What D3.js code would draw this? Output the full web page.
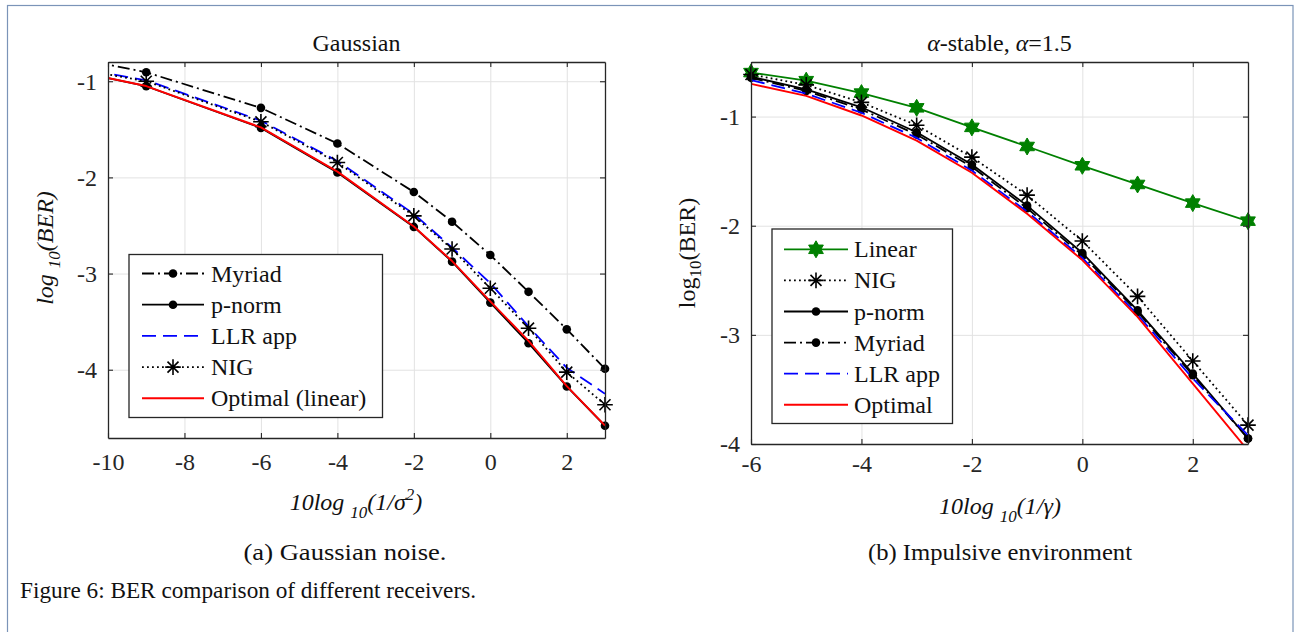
<!DOCTYPE html>
<html><head><meta charset="utf-8">
<script src="https://cdn.jsdelivr.net/npm/d3@7"></script>
<style>
html,body{margin:0;padding:0;background:#fff;}
</style></head>
<body>
<svg id="chart" width="1294" height="632"></svg>
<script>
// ---------- DATA ----------
// (a) Gaussian noise
const gaussX = [-12, -9, -6, -4, -2, -1, 0, 1, 2, 3];
const gaussMyriad  = [-0.667, -0.907, -1.277, -1.647, -2.152, -2.461, -2.807, -3.19, -3.58, -3.99];
const gaussPnorm   = [-0.80, -1.052, -1.485, -1.948, -2.515, -2.876, -3.302, -3.724, -4.174, -4.583];
const gaussLLR     = [-0.78, -0.99, -1.41, -1.83, -2.38, -2.73, -3.10, -3.55, -3.98, -4.25];
const gaussNIG     = [-0.79, -1.00, -1.422, -1.845, -2.40, -2.745, -3.153, -3.568, -4.025, -4.364];
const gaussOptimal = [-0.80, -1.05, -1.48, -1.94, -2.51, -2.87, -3.29, -3.70, -4.17, -4.58];
const gaussXTicks = [-10, -8, -6, -4, -2, 0, 2];
const gaussYTicks = [-4, -3, -2, -1];

// (b) alpha-stable, alpha = 1.5
const stableX = [-6, -5, -4, -3, -2, -1, 0, 1, 2, 3];
const stableLinear  = [-0.597, -0.671, -0.785, -0.920, -1.099, -1.274, -1.451, -1.622, -1.793, -1.958];
const stableNIG     = [-0.615, -0.71, -0.87, -1.08, -1.372, -1.72, -2.14, -2.647, -3.239, -3.827];
const stablePnorm   = [-0.635, -0.75, -0.915, -1.144, -1.44, -1.816, -2.25, -2.775, -3.354, -3.949];
const stableMyriad  = [-0.645, -0.765, -0.935, -1.165, -1.46, -1.84, -2.27, -2.79, -3.37, -3.95];
const stableLLR     = [-0.665, -0.79, -0.965, -1.195, -1.495, -1.87, -2.295, -2.815, -3.40, -3.92];
const stableOptimal = [-0.70, -0.81, -0.99, -1.22, -1.515, -1.89, -2.315, -2.836, -3.446, -4.06];
const stableXTicks = [-6, -4, -2, 0, 2];
const stableYTicks = [-4, -3, -2, -1];

// ---------- STYLES ----------
const FONT = "'Liberation Serif','Times New Roman',serif";
const AX = "#262626", GRID = "#e2e2e2";
const styles = {
  Myriad:  {color:"#000", dash:"12,4,2,4", marker:"dot", width:1.8},
  pnorm:   {color:"#000", dash:null, marker:"dot", width:1.8},
  LLR:     {color:"#0000ff", dash:"14,7", marker:null, width:1.8},
  NIG:     {color:"#000", dash:"1.8,3.2", marker:"ast", width:1.8},
  Optimal: {color:"#ff0000", dash:null, marker:null, width:1.9},
  Linear:  {color:"#008000", dash:null, marker:"hex", width:1.8}
};

const svg = d3.select("#chart");
// page frame
svg.append("rect").attr("x",7.5).attr("y",5.5).attr("width",1285.5).attr("height",700)
  .attr("fill","none").attr("stroke","#7b94b8").attr("stroke-width",1.2);

function hexPath(R){
  const r = R/Math.sqrt(3); let p = [];
  for(let k=0;k<12;k++){
    const a = (-90 + k*30)*Math.PI/180, rr = (k%2===0)?R:r;
    p.push([rr*Math.cos(a), rr*Math.sin(a)]);
  }
  return "M"+p.map(q=>q[0].toFixed(2)+","+q[1].toFixed(2)).join("L")+"Z";
}
function drawMarker(g, type, x, y, color){
  if(type==="dot"){
    g.append("circle").attr("cx",x).attr("cy",y).attr("r",4.3).attr("fill",color);
  } else if(type==="ast"){
    const s=7.8, d=5.5;
    g.append("path").attr("transform",`translate(${x},${y})`)
      .attr("d",`M${-s},0H${s}M0,${-s}V${s}M${-d},${-d}L${d},${d}M${-d},${d}L${d},${-d}`)
      .attr("stroke",color).attr("stroke-width",1.6).attr("fill","none");
  } else if(type==="hex"){
    g.append("path").attr("transform",`translate(${x},${y})`).attr("d",hexPath(8.5))
      .attr("fill",color).attr("stroke",color).attr("stroke-width",1);
  }
}

function panel(cfg){
  const {id, left, right, top, bottom, xDom, yDom, xTicks, yTicks, xs, series, title, legend, xTickY} = cfg;
  const x = d3.scaleLinear().domain(xDom).range([left,right]);
  const y = d3.scaleLinear().domain(yDom).range([bottom,top]);
  const g = svg.append("g");
  const clipId = "clip"+id;
  svg.append("clipPath").attr("id",clipId).append("rect")
    .attr("x",left).attr("y",top).attr("width",right-left).attr("height",bottom-top);
  // grid
  const gx = g.append("g").attr("transform",`translate(0,${bottom})`)
    .call(d3.axisBottom(x).tickValues(xTicks).tickSize(-(bottom-top)).tickFormat(""));
  gx.select(".domain").remove();
  gx.selectAll("line").attr("stroke",GRID).attr("stroke-width",1);
  const gy = g.append("g").attr("transform",`translate(${left},0)`)
    .call(d3.axisLeft(y).tickValues(yTicks).tickSize(-(right-left)).tickFormat(""));
  gy.select(".domain").remove();
  gy.selectAll("line").attr("stroke",GRID).attr("stroke-width",1);
  // series lines
  const line = d3.line().x((d,i)=>x(xs[i])).y(d=>y(d));
  series.forEach(s=>{
    const st = styles[s.style];
    g.append("path").datum(s.values).attr("d",line).attr("clip-path",`url(#${clipId})`)
      .attr("fill","none").attr("stroke",st.color).attr("stroke-width",st.width)
      .attr("stroke-dasharray",st.dash).attr("stroke-linejoin","round");
    if(st.marker){
      s.values.forEach((v,i)=>{
        if(xs[i] >= xDom[0] && xs[i] <= xDom[1] && v >= yDom[0]-0.05)
          drawMarker(g, st.marker, x(xs[i]), y(v), st.color);
      });
    }
  });
  // axes box
  const fr = g.append("g");
  const axB = fr.append("g").attr("transform",`translate(0,${bottom})`)
    .call(d3.axisBottom(x).tickValues(xTicks).tickSize(-5).tickSizeOuter(0).tickPadding(12).tickFormat(d3.format("d")));
  const axT = fr.append("g").attr("transform",`translate(0,${top})`)
    .call(d3.axisTop(x).tickValues(xTicks).tickSize(-5).tickSizeOuter(0).tickFormat(""));
  const axL = fr.append("g").attr("transform",`translate(${left},0)`)
    .call(d3.axisLeft(y).tickValues(yTicks).tickSize(-5).tickSizeOuter(0).tickPadding(11).tickFormat(d3.format("d")));
  const axR = fr.append("g").attr("transform",`translate(${right},0)`)
    .call(d3.axisRight(y).tickValues(yTicks).tickSize(-5).tickSizeOuter(0).tickFormat(""));
  [axB,axT,axL,axR].forEach(a=>{
    a.attr("font-family",null).attr("font-size",null);
    a.select(".domain").attr("stroke",AX).attr("stroke-width",1.3);
    a.selectAll(".tick line").attr("stroke",AX).attr("stroke-width",1.1);
    a.selectAll("text").attr("fill",AX).attr("font-size",24)
      .text(function(){return d3.select(this).text().replace("−","-");});
  });
  axB.selectAll("text").attr("dy",null).attr("y",xTickY - bottom);
  axL.selectAll("text").attr("dy","0.33em");
  // title
  const t = svg.append("text").attr("x",(left+right)/2).attr("y",51).attr("text-anchor","middle")
    .attr("font-size",24).attr("fill","#111");
  title(t);
  // legend
  const L = legend;
  svg.append("rect").attr("x",L.x).attr("y",L.y).attr("width",L.w).attr("height",L.h)
    .attr("fill","#fff").attr("stroke",AX).attr("stroke-width",1.3);
  L.items.forEach((it,i)=>{
    const st = styles[it.style];
    const yy = L.y0 + i*L.dy;
    svg.append("line").attr("x1",L.lx0).attr("x2",L.lx1).attr("y1",yy).attr("y2",yy)
      .attr("stroke",st.color).attr("stroke-width",st.width).attr("stroke-dasharray",st.dash);
    if(st.marker) drawMarker(svg, st.marker, (L.lx0+L.lx1)/2, yy, st.color);
    svg.append("text").attr("x",L.tx).attr("y",yy+8).attr("font-size",24).attr("fill","#111").text(it.label);
  });
  return {x,y};
}

panel({
  id:"a", left:108, right:605, top:62, bottom:438, xDom:[-10,3], yDom:[-4.71,-0.8],
  xTicks:gaussXTicks, yTicks:gaussYTicks, xs:gaussX, xTickY:470,
  series:[
    {style:"Myriad", values:gaussMyriad},
    {style:"pnorm", values:gaussPnorm},
    {style:"LLR", values:gaussLLR},
    {style:"NIG", values:gaussNIG},
    {style:"Optimal", values:gaussOptimal}
  ],
  title:t=>t.text("Gaussian"),
  legend:{x:129, y:254.5, w:253.5, h:163, y0:273.5, dy:31.2, lx0:142, lx1:204, tx:211,
    items:[{style:"Myriad",label:"Myriad"},{style:"pnorm",label:"p-norm"},{style:"LLR",label:"LLR app"},
           {style:"NIG",label:"NIG"},{style:"Optimal",label:"Optimal (linear)"}]}
});

panel({
  id:"b", left:751, right:1248, top:62, bottom:444, xDom:[-6,3], yDom:[-4,-0.5],
  xTicks:stableXTicks, yTicks:stableYTicks, xs:stableX, xTickY:472,
  series:[
    {style:"Linear", values:stableLinear},
    {style:"NIG", values:stableNIG},
    {style:"pnorm", values:stablePnorm},
    {style:"Myriad", values:stableMyriad},
    {style:"LLR", values:stableLLR},
    {style:"Optimal", values:stableOptimal}
  ],
  title:t=>{
    t.append("tspan").attr("font-style","italic").text("α");
    t.append("tspan").text("-stable, ");
    t.append("tspan").attr("font-style","italic").text("α");
    t.append("tspan").text("=1.5");
  },
  legend:{x:772, y:229, w:180.5, h:194.5, y0:249.3, dy:31.1, lx0:784, lx1:848, tx:854,
    items:[{style:"Linear",label:"Linear"},{style:"NIG",label:"NIG"},{style:"pnorm",label:"p-norm"},
           {style:"Myriad",label:"Myriad"},{style:"LLR",label:"LLR app"},{style:"Optimal",label:"Optimal"}]}
});

// axis labels
// left y label
const yl = svg.append("text").attr("transform","translate(53,248) rotate(-90)")
  .attr("text-anchor","middle").attr("font-size",24).attr("font-style","italic").attr("fill","#111");
yl.append("tspan").text("log ");
yl.append("tspan").attr("font-size",17).attr("dy",7).text("10");
yl.append("tspan").attr("dy",-7).text("(BER)");
// right y label
const yr = svg.append("text").attr("transform","translate(695,253) rotate(-90)")
  .attr("text-anchor","middle").attr("font-size",24).attr("fill","#111");
yr.append("tspan").text("log");
yr.append("tspan").attr("font-size",17).attr("dy",6).text("10");
yr.append("tspan").attr("dy",-6).text("(BER)");
// left x label
const xl = svg.append("text").attr("x",356).attr("y",510).attr("text-anchor","middle")
  .attr("font-size",24).attr("font-style","italic").attr("fill","#111");
xl.append("tspan").text("10log ");
xl.append("tspan").attr("font-size",17).attr("dy",8).text("10");
xl.append("tspan").attr("dy",-8).text("(1/σ");
xl.append("tspan").attr("font-size",17).attr("dy",-10).text("2");
xl.append("tspan").attr("dy",10).text(")");
// right x label
const xr = svg.append("text").attr("x",1000).attr("y",514).attr("text-anchor","middle")
  .attr("font-size",24).attr("font-style","italic").attr("fill","#111");
xr.append("tspan").text("10log ");
xr.append("tspan").attr("font-size",17).attr("dy",8).text("10");
xr.append("tspan").attr("dy",-8).text("(1/γ)");

// captions
svg.append("text").attr("x",345).attr("y",560).attr("text-anchor","middle").attr("font-size",24)
  .attr("textLength",203).attr("lengthAdjust","spacingAndGlyphs").attr("fill","#111").text("(a) Gaussian noise.");
svg.append("text").attr("x",1000).attr("y",560).attr("text-anchor","middle").attr("font-size",24)
  .attr("textLength",264).attr("lengthAdjust","spacingAndGlyphs").attr("fill","#111").text("(b) Impulsive environment");
svg.append("text").attr("x",20).attr("y",598).attr("font-size",24)
  .attr("textLength",456).attr("lengthAdjust","spacingAndGlyphs").attr("fill","#111").text("Figure 6: BER comparison of different receivers.");

// serif font everywhere (inline style wins over inherited attributes)
svg.selectAll("text").style("font-family", FONT);
</script>
</body></html>
